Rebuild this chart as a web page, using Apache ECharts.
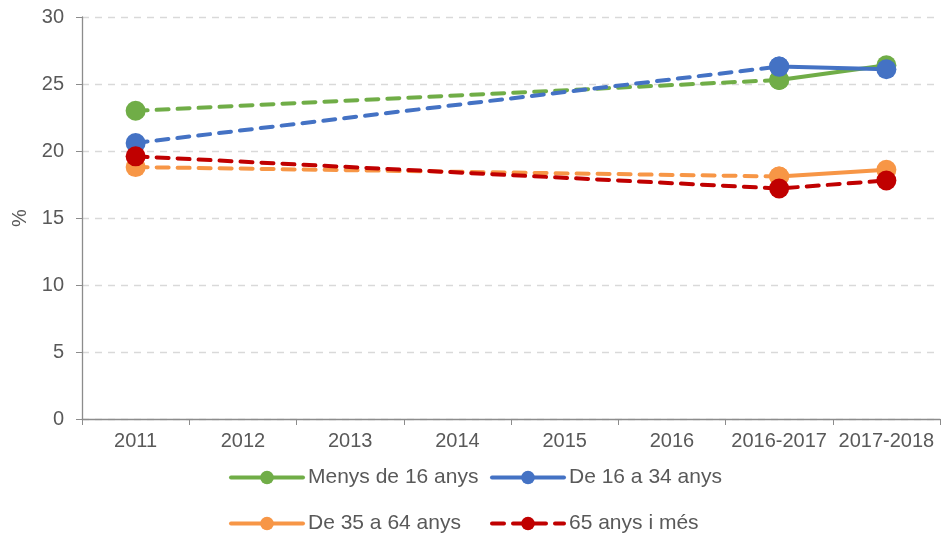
<!DOCTYPE html>
<html><head><meta charset="utf-8">
<script src="https://cdn.jsdelivr.net/npm/echarts@6/dist/echarts.min.js"></script>
<style>html,body{margin:0;padding:0;background:#fff}#c{width:945px;height:535px}</style>
</head><body><div id="c"></div>
<script>
const categories = ['2011','2012','2013','2014','2015','2016','2016-2017','2017-2018'];
const seriesNames = ['Menys de 16 anys','De 16 a 34 anys','De 35 a 64 anys','65 anys i més'];
const menys16 = [23.0, null, null, null, null, null, 25.3, 26.4];
const de16a34 = [20.6, null, null, null, null, null, 26.3, 26.1];
const de35a64 = [18.8, null, null, null, null, null, 18.1, 18.6];
const mes65   = [19.6, null, null, null, null, null, 17.2, 17.8];
const yTicks = [0, 5, 10, 15, 20, 25, 30];
const colors = ['#70AD47', '#4472C4', '#F79646', '#C00000'];

const FONT = "'Liberation Sans', Arial, sans-serif";
const dash = [12, 9];

function dashedPart(arr){ return arr.map((v,i)=> i===arr.length-1 ? null : v); }
function solidPart(arr){ return arr.map((v,i)=> i>=arr.length-2 ? v : null); }

const series = [];
const allData = [menys16, de16a34, de35a64];
allData.forEach((arr, k) => {
  series.push({
    name: seriesNames[k] + ' (dash)', type: 'line', data: dashedPart(arr), connectNulls: true,
    symbol: 'circle', symbolSize: 20, color: colors[k],
    lineStyle: {width: 4, type: dash, cap: 'round', color: colors[k]},
    itemStyle: {color: colors[k]}, z: 2 + k
  });
  series.push({
    name: seriesNames[k], type: 'line', data: solidPart(arr), connectNulls: false,
    symbol: 'circle', symbolSize: 20, color: colors[k],
    lineStyle: {width: 4, type: 'solid', cap: 'round', color: colors[k]},
    itemStyle: {color: colors[k]}, z: 2 + k
  });
});
series.push({
  name: seriesNames[3], type: 'line', data: mes65, connectNulls: true,
  symbol: 'circle', symbolSize: 20, color: colors[3],
  lineStyle: {width: 4, type: dash, cap: 'round', color: colors[3]},
  itemStyle: {color: colors[3]}, z: 6
});

function legendAt(name, left, top){
  return {
    data: [name], left: left, top: top, itemWidth: 72, itemHeight: 17, itemGap: 0,
    lineStyle: {width: 4},
    textStyle: {fontFamily: FONT, fontSize: 21, color: '#595959'}, selectedMode: false
  };
}

const chart = echarts.init(document.getElementById('c'), null, {renderer: 'canvas'});
chart.setOption({
  animation: false,
  backgroundColor: '#fff',
  grid: {left: 82, right: 5, top: 17, bottom: 116, containLabel: false},
  legend: [
    legendAt(seriesNames[0], 224, 462),
    legendAt(seriesNames[1], 485, 462),
    legendAt(seriesNames[2], 224, 508),
    legendAt(seriesNames[3], 485, 508)
  ],
  xAxis: {
    type: 'category', data: categories, boundaryGap: true,
    axisLine: {lineStyle: {color: '#8c8c8c', width: 1.3}},
    axisTick: {show: true, length: 6, lineStyle: {color: '#8c8c8c'}},
    axisLabel: {fontFamily: FONT, fontSize: 20, color: '#595959', margin: 12, interval: 0}
  },
  yAxis: {
    type: 'value', min: 0, max: 30, interval: 5,
    name: '%', nameLocation: 'middle', nameGap: 47, nameRotate: 90,
    nameTextStyle: {fontFamily: FONT, fontSize: 20, color: '#595959'},
    axisLine: {show: true, lineStyle: {color: '#8c8c8c', width: 1.3}},
    axisTick: {show: true, length: 6, lineStyle: {color: '#8c8c8c'}},
    axisLabel: {fontFamily: FONT, fontSize: 20, color: '#595959', margin: 18,
      formatter: v => yTicks.includes(v) ? String(v) : ''},
    splitLine: {show: true, lineStyle: {color: '#d9d9d9', width: 1.3, type: [7, 6]}}
  },
  series: series
});
</script></body></html>
